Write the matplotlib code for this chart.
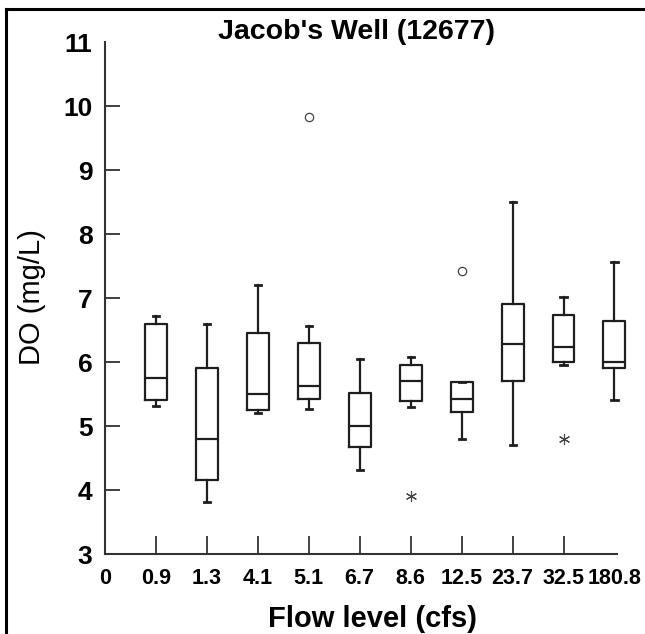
import matplotlib
matplotlib.use('Agg')
import matplotlib.pyplot as plt
from matplotlib.lines import Line2D

plt.rcParams['font.family'] = ['Liberation Sans', 'DejaVu Sans']

# flow levels (cfs) and box stats
flow_labels = ['0', '0.9', '1.3', '4.1', '5.1', '6.7', '8.6', '12.5', '23.7', '32.5', '180.8']
whis_lo = [5.31, 3.81, 5.21, 5.26, 4.31, 5.30, 4.80, 4.71, 5.96, 5.41]
q1 = [5.41, 4.15, 5.25, 5.42, 4.67, 5.39, 5.22, 5.71, 6.00, 5.90]
median = [5.75, 4.80, 5.50, 5.62, 5.00, 5.70, 5.42, 6.28, 6.24, 6.00]
q3 = [6.60, 5.90, 6.46, 6.29, 5.52, 5.96, 5.68, 6.90, 6.73, 6.64]
whis_hi = [6.72, 6.59, 7.21, 6.56, 6.05, 6.08, 5.68, 8.50, 7.01, 7.57]

# outliers: circles and far-out asterisks (box number, value)
circle_box = [4, 7]
circle_val = [9.83, 7.42]
star_box = [6, 9]
star_val = [3.90, 4.79]

fig = plt.figure(figsize=(6.45, 6.34), dpi=100)
ax = fig.add_axes([105 / 645, 80 / 634, 512 / 645, 512 / 634])

stats = []
for i in range(len(median)):
    stats.append({'whislo': whis_lo[i], 'q1': q1[i], 'med': median[i],
                  'q3': q3[i], 'whishi': whis_hi[i], 'fliers': []})

lc = '#1e1e1e'
pos = list(range(1, len(median) + 1))
parts = ax.bxp(stats, positions=pos, widths=0.43, capwidths=0.12, showfliers=False,
               boxprops=dict(color=lc, linewidth=1.6),
               medianprops=dict(color=lc, linewidth=1.6),
               whiskerprops=dict(color=lc, linewidth=1.6),
               capprops=dict(color=lc, linewidth=2.0))
for key in parts:
    for a in parts[key]:
        a.set_clip_on(False)

ax.plot(circle_box, circle_val, linestyle='none', marker='o', markersize=6,
        markerfacecolor='none', markeredgecolor='#444444', markeredgewidth=0.9)
ax.plot(star_box, star_val, linestyle='none', marker=(6, 2, 0), markersize=8,
        markeredgecolor='#444444', markeredgewidth=0.8)

ax.set_xlim(0, 10.05)
ax.set_ylim(3, 11)

for s in ['top', 'right']:
    ax.spines[s].set_visible(False)
for s in ['left', 'bottom']:
    ax.spines[s].set_linewidth(1.5)
    ax.spines[s].set_color('#333333')

# major ticks carry the marks, minor ones just the end labels
ax.set_xticks(pos[:-1])
ax.set_xticklabels(flow_labels[1:-1])
ax.set_xticks([0, 10], minor=True)
ax.set_xticklabels([flow_labels[0], flow_labels[-1]], minor=True)
ax.set_yticks(range(4, 11))
ax.set_yticks([3, 11], minor=True)
ax.set_yticklabels(['3', '11'], minor=True)

ax.tick_params(axis='x', which='major', direction='in', length=13, width=1.3,
               color='#333333', pad=10, labelsize=15.5)
ax.tick_params(axis='x', which='minor', length=0, pad=10, labelsize=15.5)
ax.tick_params(axis='y', which='major', direction='in', length=11, width=1.3,
               color='#333333', pad=9, labelsize=19)
ax.tick_params(axis='y', which='minor', length=0, pad=9, labelsize=19)
for t in ax.get_xticklabels(which='both') + ax.get_yticklabels(which='both'):
    t.set_fontweight('bold')

fig.text(357 / 645, (634 - 39) / 634, "Jacob's Well (12677)", ha='center',
         va='baseline', fontsize=20.5, fontweight='bold')
fig.text(373 / 645, 0.011, 'Flow level (cfs)', ha='center', va='baseline',
         fontsize=21, fontweight='bold')
fig.text(32 / 645, (634 - 297) / 634, 'DO (mg/L)', ha='center', va='center',
         rotation=90, fontsize=21)

# frame around the figure (left and top edges show)
fig.add_artist(Line2D([6 / 645, 6 / 645], [0, (634 - 9) / 634], color='black',
                      linewidth=2.2, transform=fig.transFigure))
fig.add_artist(Line2D([6 / 645, 1], [(634 - 9) / 634, (634 - 9) / 634],
                      color='black', linewidth=2.2, transform=fig.transFigure))

fig.savefig('out.png', dpi=100)
